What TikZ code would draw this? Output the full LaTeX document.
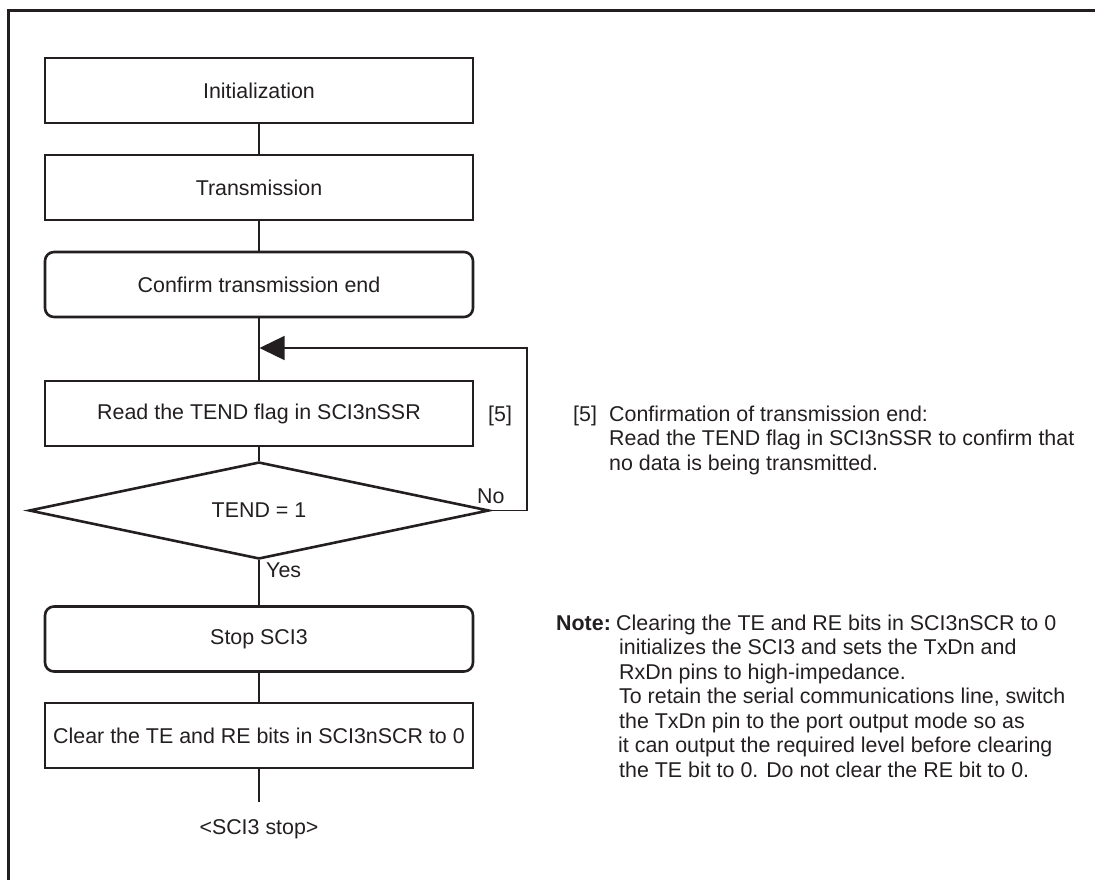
\documentclass[tikz,border=0pt]{standalone}
\usepackage{fontspec}
\setmainfont{Liberation Sans}
\usetikzlibrary{shapes.geometric,arrows.meta}
\definecolor{ink}{RGB}{35,31,32}
\newcommand{\diagfont}{\fontsize{21.4}{24.5}\selectfont}

\begin{document}
\begin{tikzpicture}[x=1pt,y=-1pt,
  proc/.style={draw=ink, line width=2.6pt, minimum width=428pt, minimum height=65pt,
               inner sep=0pt, font=\diagfont, text=ink},
  rproc/.style={proc, rounded corners=9pt},
  decision/.style={diamond, draw=ink, line width=2.6pt, aspect=4.7, minimum width=460pt,
                   minimum height=97pt, inner sep=0pt, font=\diagfont, text=ink},
  link/.style={draw=ink, line width=1.3pt},
  lbl/.style={inner sep=0pt, font=\diagfont, text=ink, anchor=base west},
  frame/.style={draw=ink, line width=2.6pt}]

\useasboundingbox (0,0) rectangle (1095,879);

% outer frame (open to the right and bottom)
\draw[frame] (8.7,900) -- (8.7,10.5) -- (1110,10.5);

% flow boxes
\node[proc]     (init)  at (259,90.5)  {Initialization};
\node[proc]     (trans) at (259,187.5) {Transmission};
\node[rproc]    (conf)  at (259,284.5) {Confirm transmission end};
\node[proc]     (read)  at (259,413.5) {Read the TEND flag in SCI3nSSR};
\node[decision] (dec)   at (259,510.5) {TEND = 1};
\node[rproc]    (stop)  at (259,639)   {Stop SCI3};
\node[proc]     (clear) at (259,735.5) {Clear the TE and RE bits in SCI3nSCR to 0};
\coordinate (fin) at (259,802);
\node[inner sep=0pt, font=\diagfont, text=ink] (stoplbl) at (259,829) {<SCI3 stop>};

% vertical connectors
\draw[link] (init) -- (trans);
\draw[link] (trans) -- (conf);
\draw[link] (conf) -- (read);
\draw[link] (read) -- (dec);
\draw[link] (dec) -- (stop);
\draw[link] (stop) -- (clear);
\draw[link] (clear) -- (fin);

% loop back while TEND = 0
\coordinate (looptip) at (259.5,348);
\draw[link, -{Triangle[length=25pt,width=24pt]}]
  (dec.east) -- (527,510.5) |- (looptip);

% branch labels
\node[lbl] (no)   at (477,503) {No};
\node[lbl] (yes)  at (266,577) {Yes};
\node[lbl] (tag5) at (488,421) {[5]};

% explanation of step [5]
\node[lbl] (c5)  at (573,421)   {[5]};
\node[lbl] (c5a) at (609,421)   {Confirmation of transmission end:};
\node[lbl] (c5b) at (609,445.5) {Read the TEND flag in SCI3nSSR to confirm that};
\node[lbl] (c5c) at (609,470)   {no data is being transmitted.};

% note on stopping the SCI3
\node[lbl] (nt)  at (556,630)   {\textbf{Note:}};
\node[lbl] (nt1) at (616,630)   {Clearing the TE and RE bits in SCI3nSCR to 0};
\node[lbl] (nt2) at (619,654.5) {initializes the SCI3 and sets the TxDn and};
\node[lbl] (nt3) at (619,679)   {RxDn pins to high-impedance.};
\node[lbl] (nt4) at (619,703.5) {To retain the serial communications line, switch};
\node[lbl] (nt5) at (619,728)   {the TxDn pin to the port output mode so as};
\node[lbl] (nt6) at (618,752.5) {it can output the required level before clearing};
\node[lbl] (nt7) at (619,777)   {the TE bit to 0. Do not clear the RE bit to 0.};
\end{tikzpicture}
\end{document}
